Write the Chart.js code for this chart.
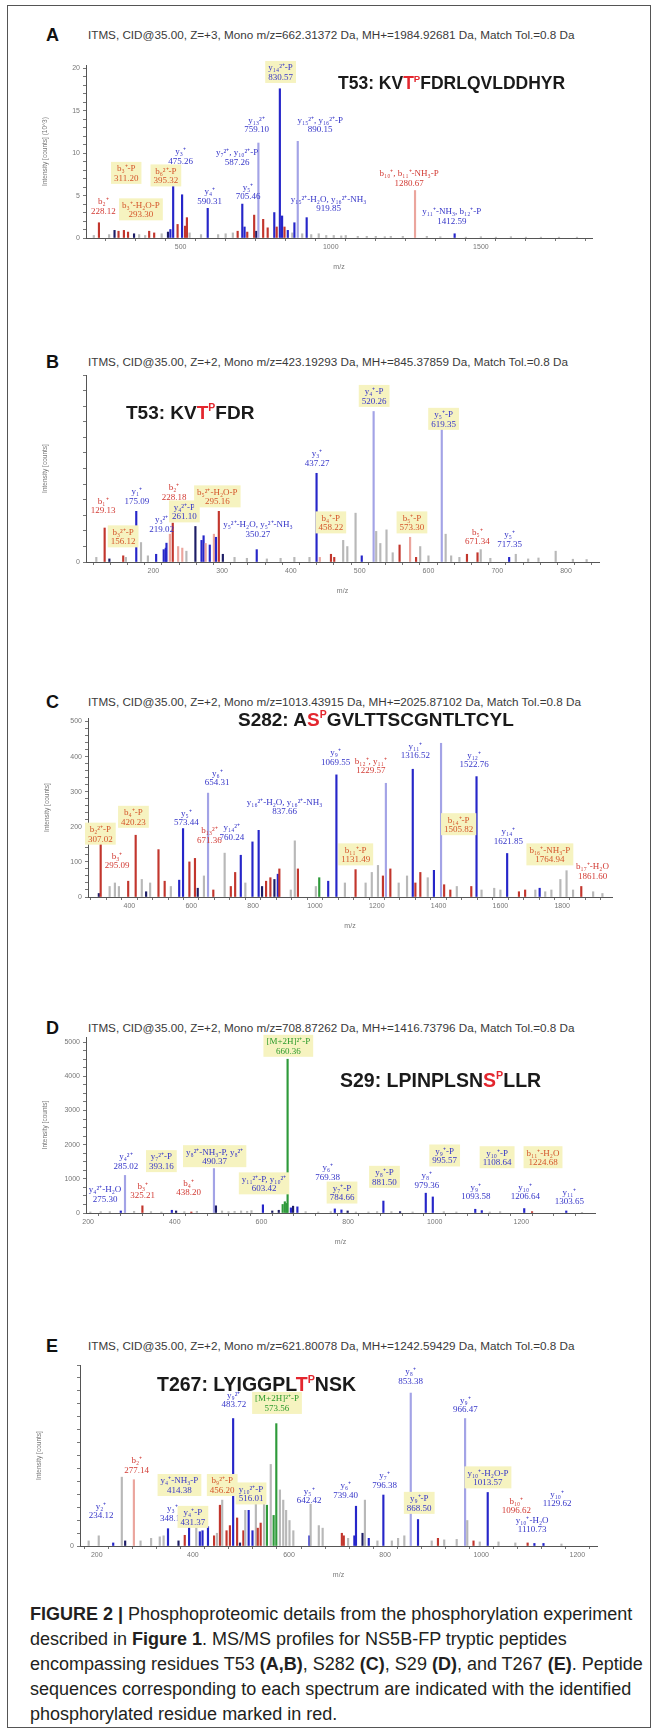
<!DOCTYPE html>
<html lang="en">
<head>
<meta charset="UTF-8">
<title>Figure 2 - MS/MS spectra</title>
<script src="https://cdn.jsdelivr.net/npm/chart.js"></script>
<style>
    body { margin: 0; background: #fff; }
    #fig { position: relative; width: 657px; height: 1731px; font-family: "Liberation Sans", Arial, sans-serif; }
    .abs { position: absolute; white-space: nowrap; }
    .frame { left: 7px; top: 5px; width: 642px; height: 1721px; border: 1px solid #555; }
    .letter { font-weight: bold; font-size: 18px; line-height: 18px; color: #111; }
    .hdr { font-size: 11.7px; line-height: 14px; color: #3a3a3a; }
    .pep { font-weight: bold; font-size: 19px; line-height: 20px; color: #1a1a1a; }
    .pep .ph { color: #e3262e; }
    .pep sup { font-size: 0.55em; vertical-align: 0.75em; line-height: 0; }
    .cap { font-size: 18px; line-height: 25px; color: #231f20; }
    canvas { position: absolute; }
</style>
</head>
<body>
<div id="fig">
    <div class="abs frame"></div>

    <!-- panel A -->
    <div class="abs letter" style="left:46px; top:26px;">A</div>
    <div class="abs hdr" style="left:88px; top:28px;">ITMS, CID@35.00, Z=+3, Mono m/z=662.31372 Da, MH+=1984.92681 Da, Match Tol.=0.8 Da</div>
    <canvas id="chartA"></canvas>
    <div class="abs pep" style="left:338px; top:73px; font-size:17.5px;">T53: KV<span class="ph">T<sup>P</sup></span>FDRLQVLDDHYR</div>

    <!-- panel B -->
    <div class="abs letter" style="left:46px; top:353px;">B</div>
    <div class="abs hdr" style="left:88px; top:355px;">ITMS, CID@35.00, Z=+2, Mono m/z=423.19293 Da, MH+=845.37859 Da, Match Tol.=0.8 Da</div>
    <canvas id="chartB"></canvas>
    <div class="abs pep" style="left:126px; top:403px;">T53: KV<span class="ph">T<sup>P</sup></span>FDR</div>

    <!-- panel C -->
    <div class="abs letter" style="left:46px; top:693px;">C</div>
    <div class="abs hdr" style="left:88px; top:695px;">ITMS, CID@35.00, Z=+2, Mono m/z=1013.43915 Da, MH+=2025.87102 Da, Match Tol.=0.8 Da</div>
    <canvas id="chartC"></canvas>
    <div class="abs pep" style="left:238px; top:710px;">S282: A<span class="ph">S<sup>P</sup></span>GVLTTSCGNTLTCYL</div>

    <!-- panel D -->
    <div class="abs letter" style="left:46px; top:1019px;">D</div>
    <div class="abs hdr" style="left:88px; top:1021px;">ITMS, CID@35.00, Z=+2, Mono m/z=708.87262 Da, MH+=1416.73796 Da, Match Tol.=0.8 Da</div>
    <canvas id="chartD"></canvas>
    <div class="abs pep" style="left:340px; top:1070px; font-size:19.5px;">S29: LPINPLSN<span class="ph">S<sup>P</sup></span>LLR</div>

    <!-- panel E -->
    <div class="abs letter" style="left:46px; top:1337px;">E</div>
    <div class="abs hdr" style="left:88px; top:1339px;">ITMS, CID@35.00, Z=+2, Mono m/z=621.80078 Da, MH+=1242.59429 Da, Match Tol.=0.8 Da</div>
    <canvas id="chartE"></canvas>
    <div class="abs pep" style="left:157px; top:1374px; font-size:19.5px;">T267: LYIGGPL<span class="ph">T<sup>P</sup></span>NSK</div>

    <div class="abs cap" style="left:30px; top:1602px;">
        <b>FIGURE 2 |</b> Phosphoproteomic details from the phosphorylation experiment<br>
        described in <b>Figure 1</b>. MS/MS profiles for NS5B-FP tryptic peptides<br>
        encompassing residues T53 <b>(A,B)</b>, S282 <b>(C)</b>, S29 <b>(D)</b>, and T267 <b>(E)</b>. Peptide<br>
        sequences corresponding to each spectrum are indicated with the identified<br>
        phosphorylated residue marked in red.
    </div>
</div>

<script>
    // ion classes: y = matched y ion, Y = faint y, b = matched b ion, B = faint b,
    // u = unassigned, k = dark unassigned, p = precursor

    // ---- Panel A : T53 KVT(p)FDRLQVLDDHYR, intensity in 10^3 counts
    const aRange = [185, 1870, 20.4];
    const aMz = [211, 228.12, 262, 280, 293.3, 311.2, 325, 345, 362, 382,
        395.32, 412, 437, 458, 466, 475.26, 490, 505, 515, 521,
        530, 568, 590.31, 625, 650, 674, 690, 705.46, 713, 722,
        745, 752, 759.10, 775, 790, 812, 820, 830.57, 838, 846,
        857, 872, 879, 890.15, 905, 919.85, 935, 960, 985, 1010,
        1050, 1090, 1150, 1200, 1280.67, 1320, 1412.59, 1500, 1600, 1700,
        1035, 1120, 1180, 1240, 1365, 1450, 1550, 1650, 1760, 1820];
    const aInt = [0.3, 1.8, 0.4, 0.9, 0.8, 0.9, 0.7, 0.5, 0.4, 0.3,
        0.8, 0.6, 0.5, 0.7, 1.0, 8.2, 1.6, 5.1, 1.4, 2.4,
        0.6, 0.4, 3.5, 0.4, 0.5, 0.6, 0.8, 4.0, 1.3, 0.7,
        2.7, 0.8, 11.2, 2.2, 1.2, 3.0, 1.3, 17.6, 2.6, 1.3,
        0.9, 0.6, 1.8, 11.4, 0.5, 2.4, 0.4, 0.5, 0.3, 0.3,
        0.3, 0.2, 0.2, 0.2, 5.6, 0.2, 0.5, 0.15, 0.15, 0.1,
        0.25, 0.2, 0.15, 0.2, 0.15, 0.1, 0.1, 0.1, 0.1, 0.1];
    const aIon = ['u', 'b', 'u', 'k', 'b', 'b', 'b', 'k', 'u', 'u',
        'b', 'b', 'u', 'k', 'y', 'y', 'b', 'y', 'b', 'b',
        'u', 'u', 'y', 'u', 'u', 'u', 'b', 'y', 'y', 'b',
        'b', 'k', 'Y', 'b', 'b', 'y', 'b', 'y', 'y', 'b',
        'y', 'u', 'y', 'Y', 'u', 'y', 'u', 'u', 'u', 'u',
        'u', 'u', 'u', 'u', 'B', 'u', 'y', 'u', 'u', 'u',
        'u', 'u', 'u', 'u', 'u', 'u', 'u', 'u', 'u', 'u'];
    const aLabMz = [243, 319, 368, 451, 500, 597, 688, 725, 753, 833, 965, 993, 1261, 1403];
    const aLabAt = [2.6, 6.5, 2.2, 6.2, 8.5, 3.8, 8.4, 4.3, 12.2, 18.4, 12.2, 2.9, 5.9, 1.45];
    const aLabTxt = ['b₂⁺\n228.12', 'b₃⁺-P\n311.20', 'b₃⁺-H₂O-P\n293.30', 'b₆²⁺-P\n395.32',
        'y₃⁺\n475.26', 'y₄⁺\n590.31', 'y₇²⁺, y₁₀²⁺-P\n587.26', 'y₅⁺\n705.46', 'y₁₃²⁺\n759.10',
        'y₁₄²⁺-P\n830.57', 'y₁₅²⁺, y₁₆²⁺-P\n890.15', 'y₁₅²⁺-H₂O, y₁₆²⁺-NH₃\n919.85',
        'b₁₀⁺, b₁₁⁺-NH₃-P\n1280.67', 'y₁₁⁺-NH₃, b₁₂⁺-P\n1412.59'];
    const aLabIon = ['b', 'bB', 'bB', 'bB', 'y', 'y', 'y', 'y', 'y', 'yB', 'y', 'y', 'b', 'y'];

    // ---- Panel B : T53 KVT(p)FDR
    const bRange = [102, 848, 6050];
    const bMz = [117, 129.13, 136, 156.12, 160, 175.09, 182, 192, 204, 215,
        218, 219.02, 224, 228.18, 236, 242, 248, 261.10, 270, 273,
        276, 282, 288, 291, 295.16, 301, 318, 336, 350.27, 365,
        385, 405, 427, 437.27, 442, 458.22, 463, 476, 482, 494,
        503, 520.26, 524, 530, 539, 548, 558, 573.30, 582, 588,
        619.35, 625, 633, 656, 671.34, 676, 717.35, 727, 785,
        600, 645, 690, 745, 760, 810, 830];
    const bInt = [150, 1100, 100, 200, 150, 1640, 630, 200, 250, 400,
        450, 610, 900, 1260, 500, 450, 350, 1150, 700, 850,
        600, 550, 900, 800, 1640, 250, 150, 120, 400, 100,
        120, 150, 150, 2870, 150, 250, 150, 700, 500, 1580,
        200, 4870, 990, 600, 1040, 300, 550, 800, 150, 500,
        4440, 900, 200, 250, 300, 400, 150, 250, 350,
        200, 150, 120, 100, 130, 90, 80];
    const bIon = ['u', 'b', 'k', 'b', 'u', 'y', 'u', 'u', 'y', 'y',
        'y', 'y', 'B', 'b', 'B', 'B', 'u', 'k', 'y', 'y',
        'B', 'y', 'B', 'y', 'b', 'k', 'u', 'u', 'y', 'u',
        'u', 'u', 'u', 'y', 'B', 'b', 'b', 'u', 'u', 'u',
        'y', 'Y', 'u', 'u', 'u', 'u', 'b', 'B', 'b', 'u',
        'Y', 'u', 'u', 'b', 'b', 'u', 'y', 'u', 'u',
        'u', 'u', 'u', 'u', 'u', 'u', 'u'];
    const bLabMz = [127, 156, 176, 212, 230, 245, 293, 352, 438, 458, 521, 576, 622, 671, 718];
    const bLabAt = [1510, 506, 1820, 915, 1940, 1314, 1800, 754, 3037, 958, 5050, 958, 4308, 506, 420];
    const bLabTxt = ['b₁⁺\n129.13', 'b₃²⁺-P\n156.12', 'y₁⁺\n175.09', 'y₃²⁺\n219.02', 'b₂⁺\n228.18',
        'y₄²⁺-P\n261.10', 'b₅²⁺-H₂O-P\n295.16', 'y₅²⁺-H₂O, y₅²⁺-NH₃\n350.27', 'y₃⁺\n437.27',
        'b₄⁺-P\n458.22', 'y₄⁺-P\n520.26', 'b₅⁺-P\n573.30', 'y₅⁺-P\n619.35', 'b₅⁺\n671.34', 'y₅⁺\n717.35'];
    const bLabIon = ['b', 'bB', 'y', 'y', 'b', 'yB', 'bB', 'y', 'y', 'bB', 'yB', 'bB', 'yB', 'b', 'y'];

    // ---- Panel C : S282 AS(p)GVLTTSCGNTLTCYL
    const cRange = [266, 1961, 510];
    const cMz = [301, 307.02, 336, 353, 366, 396, 420.23, 440, 454, 467,
        494, 514, 534, 561, 573.44, 594, 612, 621, 641, 654.31,
        671.36, 708, 728, 742, 760.24, 775, 798, 818, 829, 842,
        856, 869, 880, 885, 922, 935, 945, 1003, 1014, 1043,
        1069.55, 1097, 1131.49, 1164, 1184, 1204, 1220, 1229.57, 1244, 1271,
        1298, 1316.52, 1325, 1341, 1365, 1385, 1408, 1418, 1438, 1459,
        1505.82, 1522.76, 1539, 1621.85, 1660, 1680, 1713, 1727, 1764.94, 1794,
        1814, 1861.6, 1580, 1600, 1745, 1835, 1900, 1930];
    const cInt = [10, 152, 30, 40, 30, 45, 176, 50, 15, 40,
        135, 45, 30, 48, 195, 100, 110, 25, 60, 296,
        20, 125, 30, 70, 119, 40, 157, 190, 30, 45,
        55, 50, 65, 80, 20, 160, 80, 30, 55, 45,
        348, 40, 78, 40, 70, 90, 60, 324, 80, 40,
        60, 364, 40, 70, 55, 76, 438, 35, 20, 30,
        30, 343, 20, 124, 15, 20, 20, 25, 20, 50,
        75, 30, 25, 20, 15, 20, 15, 10];
    const cIon = ['k', 'b', 'u', 'u', 'u', 'b', 'b', 'u', 'k', 'u',
        'b', 'b', 'u', 'y', 'y', 'b', 'b', 'k', 'u', 'Y',
        'b', 'u', 'b', 'b', 'y', 'u', 'y', 'y', 'k', 'b',
        'b', 'k', 'y', 'b', 'u', 'u', 'b', 'u', 'p', 'y',
        'y', 'u', 'b', 'u', 'u', 'u', 'b', 'Y', 'b', 'u',
        'u', 'y', 'b', 'b', 'u', 'y', 'Y', 'b', 'b', 'u',
        'b', 'y', 'u', 'y', 'b', 'b', 'u', 'y', 'u', 'u',
        'u', 'b', 'u', 'u', 'u', 'u', 'u', 'u'];
    const cLabMz = [306, 360, 413, 584, 684, 659, 731, 902, 1067, 1132, 1181, 1325, 1465, 1515, 1626, 1760, 1898];
    const cLabAt = [152, 76, 200, 198, 312, 148, 157, 229, 370, 93, 346, 389, 179, 364, 145, 93, 46];
    const cLabTxt = ['b₂²⁺-P\n307.02', 'b₃⁺\n295.09', 'b₄⁺-P\n420.23', 'y₅⁺\n573.44', 'y₆⁺\n654.31',
        'b₁₃²⁺\n671.36', 'y₁₄²⁺\n760.24', 'y₁₆²⁺-H₂O, y₁₆²⁺-NH₃\n837.66', 'y₉⁺\n1069.55',
        'b₁₁⁺-P\n1131.49', 'b₁₂⁺, y₁₁⁺\n1229.57', 'y₁₁⁺\n1316.52', 'b₁₄⁺-P\n1505.82',
        'y₁₂⁺\n1522.76', 'y₁₄⁺\n1621.85', 'b₁₆⁺-NH₃-P\n1764.94', 'b₁₇⁺-H₂O\n1861.60'];
    const cLabIon = ['bB', 'b', 'bB', 'y', 'y', 'b', 'y', 'y', 'y', 'bB', 'b', 'y', 'bB', 'y', 'y', 'bB', 'b'];

    // ---- Panel D : S29 LPINPLSNS(p)LLR
    const dRange = [195, 1370, 5150];
    const dMz = [205, 229, 250, 275.30, 285.02, 306, 325.21, 345, 369, 393.16,
        403, 422, 438.2, 451, 490.37, 495, 509, 524, 538, 553,
        567, 577, 603.42, 625, 640, 649, 654, 658, 660.36, 668,
        673, 683, 702, 731, 760, 769.38, 784.66, 799, 818, 847,
        867, 881.5, 900, 920, 949, 979.36, 995.57, 1021, 1050, 1093.58,
        1108.64, 1127, 1151, 1206.64, 1224.68, 1303.65, 1340];
    const dInt = [30, 40, 40, 60, 1100, 50, 210, 40, 30, 80,
        60, 40, 30, 50, 1300, 210, 60, 40, 50, 60,
        50, 70, 240, 60, 80, 250, 330, 280, 4500, 150,
        200, 180, 40, 30, 40, 120, 90, 60, 30, 30,
        40, 350, 40, 40, 30, 580, 470, 40, 30, 110,
        70, 30, 40, 130, 40, 60, 20];
    const dIon = ['u', 'u', 'u', 'y', 'Y', 'u', 'b', 'u', 'u', 'y',
        'k', 'u', 'b', 'u', 'Y', 'k', 'u', 'u', 'u', 'u',
        'u', 'u', 'y', 'k', 'k', 'p', 'p', 'p', 'p', 'y',
        'k', 'y', 'u', 'u', 'u', 'y', 'y', 'k', 'u', 'u',
        'u', 'y', 'u', 'k', 'u', 'y', 'y', 'u', 'u', 'y',
        'y', 'u', 'u', 'y', 'b', 'y', 'u'];
    const dLabMz = [662, 239, 287, 326, 369, 432, 492, 606, 753, 786, 884, 982, 1023, 1095, 1144, 1250, 1209, 1311];
    const dLabAt = [4600, 268, 1225, 364, 1225, 460, 1370, 575, 910, 306, 766, 670, 1390, 335, 1340, 1340, 335, 191];
    const dLabTxt = ['[M+2H]²⁺-P\n660.36', 'y₄²⁺-H₂O\n275.30', 'y₄²⁺\n285.02', 'b₃⁺\n325.21',
        'y₇²⁺-P\n393.16', 'b₄⁺\n438.20', 'y₈²⁺-NH₃-P, y₈²⁺\n490.37', 'y₁₁²⁺-P, y₁₀²⁺\n603.42',
        'y₆⁺\n769.38', 'y₇⁺-P\n784.66', 'y₈⁺-P\n881.50', 'y₈⁺\n979.36', 'y₉⁺-P\n995.57',
        'y₉⁺\n1093.58', 'y₁₀⁺-P\n1108.64', 'b₁₁⁺-H₂O\n1224.68', 'y₁₀⁺\n1206.64', 'y₁₁⁺\n1303.65'];
    const dLabIon = ['pB', 'y', 'y', 'b', 'yB', 'b', 'yB', 'yB', 'y', 'yB', 'yB', 'y', 'yB', 'y', 'yB', 'bB', 'y', 'y'];

    // ---- Panel E : T267 LYIGGPLT(p)NSK
    const eRange = [165, 1241, 3550];
    const eMz = [183, 204, 234.12, 252, 259, 277.14, 291, 313, 331, 339,
        348.15, 370, 383, 392, 407, 414.38, 420, 431.37, 444, 450,
        456.2, 461, 470, 477, 483.72, 492, 498, 505, 509, 516.01,
        524, 531, 535, 541, 548, 554, 562, 568, 573.56, 581,
        588, 594, 601, 609, 642.42, 645, 662, 670, 710, 714,
        723, 736, 739.4, 753, 758, 766, 784, 796.38, 814, 827,
        840, 853.38, 868.5, 897, 910, 923, 949, 966.47, 971, 984,
        997, 1013.57, 1036, 1071, 1096.62, 1110.73, 1129.62, 1167];
    const eInt = [100, 200, 60, 1350, 100, 1300, 100, 150, 180, 200,
        340, 100, 210, 440, 500, 280, 300, 380, 200, 250,
        800, 900, 300, 400, 2500, 550, 60, 300, 700, 700,
        300, 900, 350, 450, 1000, 800, 1600, 600, 2400, 1100,
        900, 700, 500, 300, 200, 820, 400, 350, 250, 200,
        150, 200, 780, 250, 900, 150, 100, 1000, 100, 150,
        200, 3000, 520, 100, 150, 120, 130, 2500, 500, 100,
        80, 1050, 80, 60, 60, 50, 50, 40];
    const eIon = ['u', 'u', 'y', 'u', 'k', 'B', 'u', 'u', 'u', 'u',
        'y', 'k', 'b', 'y', 'u', 'y', 'y', 'y', 'b', 'u',
        'b', 'u', 'b', 'b', 'y', 'b', 'k', 'b', 'u', 'y',
        'y', 'u', 'b', 'b', 'u', 'p', 'u', 'p', 'p', 'u',
        'u', 'u', 'u', 'u', 'y', 'u', 'u', 'u', 'b', 'b',
        'u', 'y', 'y', 'k', 'u', 'y', 'u', 'y', 'u', 'u',
        'u', 'Y', 'y', 'u', 'b', 'u', 'u', 'Y', 'u', 'b',
        'u', 'y', 'u', 'u', 'b', 'y', 'y', 'u'];
    const eLabMz = [209, 283, 357, 372, 400, 461, 485, 575, 521, 642, 718, 799, 853, 871, 967, 1014, 1073, 1106, 1158];
    const eLabAt = [507, 1395, 454, 1000, 375, 1000, 2680, 2610, 835, 800, 900, 1100, 3140, 650, 2580, 1150, 605, 230, 737];
    const eLabTxt = ['y₂⁺\n234.12', 'b₂⁺\n277.14', 'y₃⁺\n348.15', 'y₄⁺-NH₃-P\n414.38', 'y₄⁺-P\n431.37',
        'b₉²⁺-P\n456.20', 'y₉²⁺\n483.72', '[M+2H]²⁺-P\n573.56', 'y₁₀²⁺-P\n516.01', 'y₅⁺\n642.42',
        'y₆⁺\n739.40', 'y₇⁺\n796.38', 'y₈⁺\n853.38', 'y₉⁺-P\n868.50', 'y₉⁺\n966.47',
        'y₁₀⁺-H₂O-P\n1013.57', 'b₁₀⁺\n1096.62', 'y₁₀⁺-H₂O\n1110.73', 'y₁₀⁺\n1129.62'];
    const eLabIon = ['y', 'b', 'y', 'yB', 'yB', 'bB', 'y', 'pB', 'yB', 'y', 'y', 'y', 'y', 'yB', 'y', 'yB', 'b', 'y', 'y'];

    // colours
    const ionColor = { y: '#2626c9', Y: '#a3a3e6', b: '#c2362d', B: '#eba59d', u: '#b8b8b8', k: '#1d1d66', p: '#2e9a3a' };
    const labColor = { y: '#3535c8', yB: '#3535c8', b: '#d23a33', bB: '#d4552a', pB: '#2b9a2b' };

    // draws the ion annotations with the chart's own scales
    function ionLabels(mz, at, txt, kind) {
        return {
            id: 'ionLabels',
            afterDatasetsDraw(chart) {
                const { ctx, scales: { x, y } } = chart;
                const lh = 9.5;
                ctx.save();
                ctx.font = '9px "Liberation Serif", serif';
                ctx.textAlign = 'center';
                ctx.textBaseline = 'bottom';
                mz.forEach((m, i) => {
                    const px = x.getPixelForValue(m);
                    const py = y.getPixelForValue(at[i]);
                    const lines = txt[i].split('\n');
                    if (kind[i].endsWith('B')) {
                        const w = Math.max(...lines.map(l => ctx.measureText(l).width)) + 6;
                        ctx.fillStyle = '#f6f3c0';
                        ctx.fillRect(px - w / 2, py - lh * lines.length - 2, w, lh * lines.length + 3);
                    }
                    ctx.fillStyle = labColor[kind[i]];
                    lines.forEach((l, j) => ctx.fillText(l, px, py - (lines.length - 1 - j) * lh));
                });
                ctx.restore();
            }
        };
    }

    // area = plot box on the page [left, top, right, bottom]
    function spectrum(id, area, range, xStep, xMajor, yStep, yMajor, yTitle, mz, inten, ion, labels) {
        const padL = 46, padT = 16, padR = 14, padB = 34;
        const cv = document.getElementById(id);
        const w = area[2] - area[0] + padL + padR;
        const h = area[3] - area[1] + padT + padB;
        cv.width = w; cv.height = h;
        cv.style.left = (area[0] - padL) + 'px';
        cv.style.top = (area[1] - padT) + 'px';
        const tickFont = { size: 7, family: '"Liberation Sans", Arial' };

        return new Chart(cv.getContext('2d'), {
            type: 'bar',
            data: {
                datasets: [{
                    data: mz.map((m, i) => ({ x: m, y: inten[i] })),
                    backgroundColor: ion.map(c => ionColor[c]),
                    barThickness: 1.5,
                    borderWidth: 0
                }]
            },
            options: {
                responsive: false,
                animation: false,
                devicePixelRatio: 1,
                layout: { padding: { top: padT, right: padR, left: 0, bottom: 0 } },
                plugins: { legend: { display: false }, tooltip: { enabled: false } },
                scales: {
                    x: {
                        type: 'linear', min: range[0], max: range[1], offset: false,
                        ticks: {
                            stepSize: xStep, autoSkip: false, includeBounds: false, maxRotation: 0,
                            font: tickFont, color: '#777', padding: 2,
                            callback: v => (v % xMajor === 0 ? v : '')
                        },
                        grid: { drawOnChartArea: false, tickLength: 3, color: '#777' },
                        border: { color: '#555' },
                        title: { display: true, text: 'm/z', font: tickFont, color: '#777', padding: 1 },
                        afterFit: s => { s.height = padB; }
                    },
                    y: {
                        min: 0, max: range[2],
                        ticks: {
                            stepSize: yStep, autoSkip: false, includeBounds: false,
                            font: tickFont, color: '#777', padding: 3,
                            callback: v => (v % yMajor === 0 ? v : '')
                        },
                        grid: { drawOnChartArea: false, tickLength: 3, color: '#777' },
                        border: { color: '#555' },
                        title: { display: true, text: yTitle, font: { size: 6.5, family: '"Liberation Sans", Arial' }, color: '#777', padding: 1 },
                        afterFit: s => { s.width = padL; }
                    }
                }
            },
            plugins: [ionLabels(labels[0], labels[1], labels[2], labels[3])]
        });
    }

    spectrum('chartA', [86, 65, 592, 238], aRange, 100, 500, 1, 5, 'Intensity [counts] (10^3)',
        aMz, aInt, aIon, [aLabMz, aLabAt, aLabTxt, aLabIon]);
    spectrum('chartB', [86, 375, 599, 562], bRange, 25, 100, 500, 1000, 'Intensity [counts]',
        bMz, bInt, bIon, [bLabMz, bLabAt, bLabTxt, bLabIon]);
    spectrum('chartC', [88, 718, 612, 897], cRange, 50, 200, 20, 100, 'Intensity [counts]',
        cMz, cInt, cIon, [cLabMz, cLabAt, cLabTxt, cLabIon]);
    spectrum('chartD', [86, 1037, 595, 1213], dRange, 50, 200, 250, 1000, 'Intensity [counts]',
        dMz, dInt, dIon, [dLabMz, dLabAt, dLabTxt, dLabIon]);
    spectrum('chartE', [80, 1365, 597, 1546], eRange, 50, 200, 250, 500, 'Intensity [counts]',
        eMz, eInt, eIon, [eLabMz, eLabAt, eLabTxt, eLabIon]);
</script>
</body>
</html>
